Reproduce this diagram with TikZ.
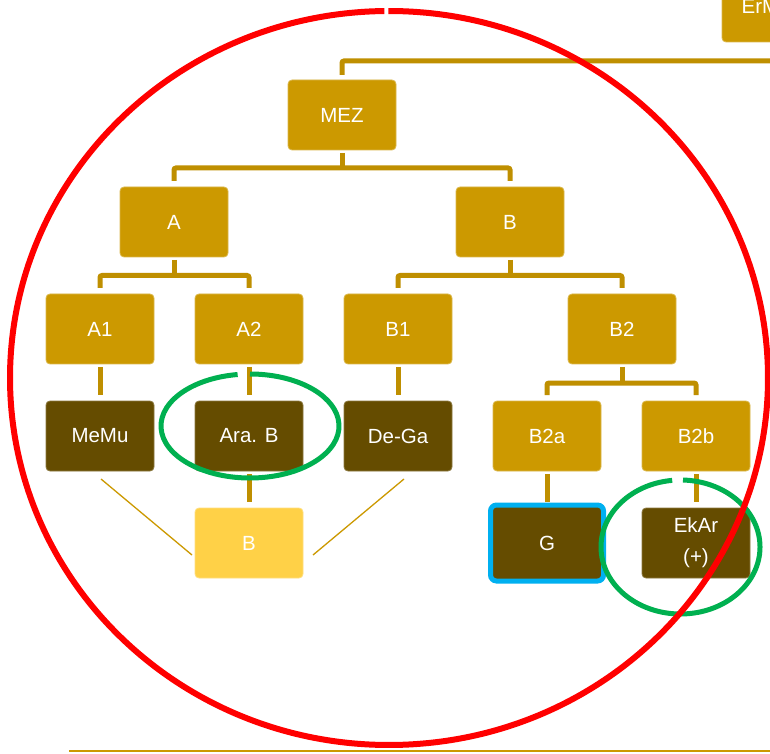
\documentclass[tikz,border=0pt]{standalone}
\usepackage{fontspec}
\setmainfont{Liberation Sans}
\definecolor{boxgold}{HTML}{CC9900}
\definecolor{linegold}{HTML}{BF8F00}
\definecolor{darkbox}{HTML}{654C00}
\definecolor{lightbox}{HTML}{FFD147}
\definecolor{blueb}{HTML}{00B0F0}
\definecolor{greenc}{HTML}{00B050}
\definecolor{redc}{HTML}{FF0000}
\begin{document}
\begin{tikzpicture}[x=1pt,y=1pt,
 box/.style={rectangle, rounded corners=4pt, minimum width=108pt, minimum height=70pt, inner sep=0pt, outer sep=0pt, text=white, font=\fontsize{20.5}{31}\selectfont, align=center, line width=0.8pt},
 goldbox/.style={box, fill=boxgold, draw=boxgold!70!white},
 darkbx/.style={box, fill=darkbox, draw=darkbox!75!white},
 lightbx/.style={box, fill=lightbox, draw=lightbox!70!white},
 conn/.style={draw=linegold, line width=5pt, rounded corners=2pt},
 thinl/.style={draw=boxgold, line width=1.3pt},
 ring/.style={line width=5pt, draw=greenc},
 bigring/.style={line width=6pt, draw=redc}
]
\useasboundingbox (0,0) rectangle (770,753);
\clip (0,0) rectangle (770,753);
\fill[white] (0,0) rectangle (770,753);

% nodes
\node[goldbox] (erm) at (776,746) {};
\node[anchor=base west, inner sep=0pt, text=white, font=\fontsize{20.5}{24}\selectfont] (ermtext) at (741.5,739.5) {ErM};
\node[goldbox] (mez) at (342,638) {MEZ};
\node[goldbox] (a) at (174,531) {A};
\node[goldbox] (b) at (510,531) {B};
\node[goldbox] (a1) at (100,424) {A1};
\node[goldbox] (a2) at (249,424) {A2};
\node[goldbox] (b1) at (398,424) {B1};
\node[goldbox] (b2) at (622,424) {B2};
\node[darkbx] (memu) at (100,317) {MeMu};
\node[darkbx] (arab) at (249,317) {Ara. B};
\node[darkbx] (dega) at (398,317) {De-Ga};
\node[goldbox] (b2a) at (547,317) {B2a};
\node[goldbox] (b2b) at (696,317) {B2b};
\node[lightbx] (bl) at (249,210) {B};
\node[darkbx, draw=blueb, line width=5pt, minimum width=113pt, minimum height=76pt, rounded corners=6pt] (g) at (547,210) {G};
\node[darkbx] (ekar) at (696,210) {EkAr\\(+)};

% connectors
\draw[conn] ([yshift=5pt]mez.north) |- ([yshift=-19pt]erm.south);
\draw[conn] ([yshift=-3pt]mez.south) -- ([yshift=-18pt]mez.south);
\draw[conn] ([yshift=6pt]a.north) |- ([yshift=-18pt]mez.south) -| ([yshift=6pt]b.north);
\draw[conn] ([yshift=-3pt]a.south) -- ([yshift=-18.5pt]a.south);
\draw[conn] ([yshift=6pt]a1.north) |- ([yshift=-18.5pt]a.south) -| ([yshift=6pt]a2.north);
\draw[conn] ([yshift=-3pt]b.south) -- ([yshift=-18.5pt]b.south);
\draw[conn] ([yshift=6pt]b1.north) |- ([yshift=-18.5pt]b.south) -| ([yshift=6pt]b2.north);
\draw[conn] ([yshift=-3pt]b2.south) -- ([yshift=-19pt]b2.south);
\draw[conn] ([yshift=6pt]b2a.north) |- ([yshift=-19pt]b2.south) -| ([yshift=6pt]b2b.north);
\draw[conn] ([yshift=-3pt]a1.south) -- ([yshift=6pt]memu.north);
\draw[conn] ([yshift=-3pt]a2.south) -- ([yshift=6pt]arab.north);
\draw[conn] ([yshift=-3pt]b1.south) -- ([yshift=6pt]dega.north);
\draw[conn] ([yshift=-3pt]arab.south) -- ([yshift=6pt]bl.north);
\draw[conn] ([yshift=-3pt]b2a.south) -- ([yshift=3pt]g.north);
\draw[conn] ([yshift=-3pt]b2b.south) -- ([yshift=6pt]ekar.north);

% thin lines
\coordinate (dl1) at (101,274);
\coordinate (dl2) at (192,198);
\coordinate (dr1) at (404,274);
\coordinate (dr2) at (313,198);
\draw[thinl] (dl1) -- (dl2);
\draw[thinl] (dr1) -- (dr2);
\coordinate (base1) at (69,2);
\coordinate (base2) at (770,2);
\draw[draw=boxgold, line width=2pt] (base1) -- (base2);

% rings
\draw[ring] (250,327) ++(98:89 and 52) arc[start angle=98, end angle=450, x radius=89, y radius=52];
\draw[ring] (680.5,206) ++(96:79.5 and 67) arc[start angle=96, end angle=448.2, x radius=79.5, y radius=67];
\draw[bigring] (389,375) ++(90.7:379 and 367) arc[start angle=90.7, end angle=450.1, x radius=379, y radius=367];
\end{tikzpicture}
\end{document}
